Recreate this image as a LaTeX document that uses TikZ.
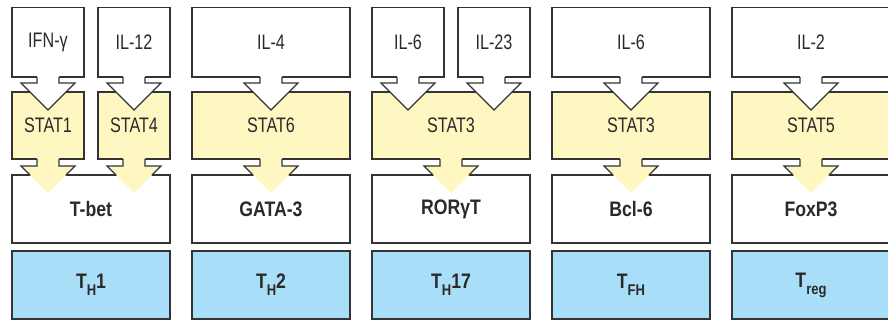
\documentclass[tikz,border=0pt]{standalone}
\usepackage{fontspec}
\setmainfont{Liberation Sans}[FakeStretch=0.77, BoldFeatures={FakeStretch=0.84}]
\usetikzlibrary{calc}
\definecolor{statfill}{HTML}{FFF7C2}
\definecolor{cellfill}{HTML}{A9DEF9}
\definecolor{edgecol}{HTML}{333333}
\definecolor{ink}{HTML}{2A2A2A}
\newcommand{\lowsub}[1]{\raisebox{-7pt}{\fontsize{15.5}{16}\selectfont #1}}
\newcommand{\wArrow}[1]{%
  \begin{scope}[shift={(#1.south)}]
    \fill[white] (-11,-1) -- (-11,6) -- (-27,6) -- (0,33) -- (27,6) -- (11,6) -- (11,-1) -- cycle;
    \draw[arrline] (-11,0) -- (-11,6) -- (-27,6) -- (0,33) -- (27,6) -- (11,6) -- (11,0);
  \end{scope}}
\newcommand{\yArrow}[1]{%
  \begin{scope}[shift={(#1.south)}]
    \fill[statfill] (-11,-1) -- (-11,7) -- (-27,7) -- (0,34) -- (27,7) -- (11,7) -- (11,-1) -- cycle;
    \draw[arrline] (-18,16) -- (-27,7) -- (-11,7) -- (-11,0);
    \draw[arrline] (18,16) -- (27,7) -- (11,7) -- (11,0);
  \end{scope}}
\begin{document}
\begin{tikzpicture}[x=1pt,y=-1pt,
  box/.style={draw=edgecol, line width=1.2pt, inner sep=0pt, outer sep=0pt,
    text=ink, anchor=north west, font=\fontsize{21}{23}\selectfont},
  arrline/.style={draw=edgecol, line width=1.2pt, line join=miter},
  narrow/.style={minimum width=72pt},
  wide/.style={minimum width=158pt},
  cyt/.style={box, fill=white, minimum height=69.5pt},
  stat/.style={box, fill=statfill, minimum height=67pt},
  tf/.style={box, fill=white, minimum height=68pt, font=\fontsize{21}{23}\selectfont\bfseries},
  cell/.style={box, fill=cellfill, minimum height=68pt, font=\fontsize{21}{23}\selectfont\bfseries}]
\useasboundingbox (0,0) rectangle (888,321);
\clip (0,0) rectangle (888,321);
% row 1: cytokines
\node[cyt, narrow] (c1a) at (12,7.5) {IFN-γ};
\node[cyt, narrow] (c1b) at (98,7.5) {IL-12};
\node[cyt, wide] (c2) at (192,7.5) {IL-4};
\node[cyt, narrow] (c3a) at (372,7.5) {IL-6};
\node[cyt, narrow] (c3b) at (458,7.5) {IL-23};
\node[cyt, wide] (c4) at (552,7.5) {IL-6};
\node[cyt, wide] (c5) at (732,7.5) {IL-2};
% row 2: STATs
\node[stat, narrow] (s1a) at (12,92) {STAT1};
\node[stat, narrow] (s1b) at (98,92) {STAT4};
\node[stat, wide] (s2) at (192,92) {STAT6};
\node[stat, wide] (s3) at (372,92) {STAT3};
\node[stat, wide] (s4) at (552,92) {STAT3};
\node[stat, wide] (s5) at (732,92) {STAT5};
% row 3: transcription factors
\node[tf, wide] (t1) at (12,175) {T-bet};
\node[tf, wide] (t2) at (192,175) {GATA-3};
\node[tf, wide] (t3) at (372,175) {RORγT};
\node[tf, wide] (t4) at (552,175) {Bcl-6};
\node[tf, wide] (t5) at (732,175) {FoxP3};
% row 4: cell types
\node[cell, wide] (h1) at (12,251) {T\lowsub{H}1};
\node[cell, wide] (h2) at (192,251) {T\lowsub{H}2};
\node[cell, wide] (h3) at (372,251) {T\lowsub{H}17};
\node[cell, wide] (h4) at (552,251) {T\lowsub{FH}};
\node[cell, wide] (h5) at (732,251) {T\lowsub{reg}};
% arrows cytokine -> STAT
\wArrow{c1a}\wArrow{c1b}\wArrow{c2}\wArrow{c3a}\wArrow{c3b}\wArrow{c4}\wArrow{c5}
% arrows STAT -> TF
\yArrow{s1a}\yArrow{s1b}\yArrow{s2}\yArrow{s3}\yArrow{s4}\yArrow{s5}
\end{tikzpicture}
\end{document}
